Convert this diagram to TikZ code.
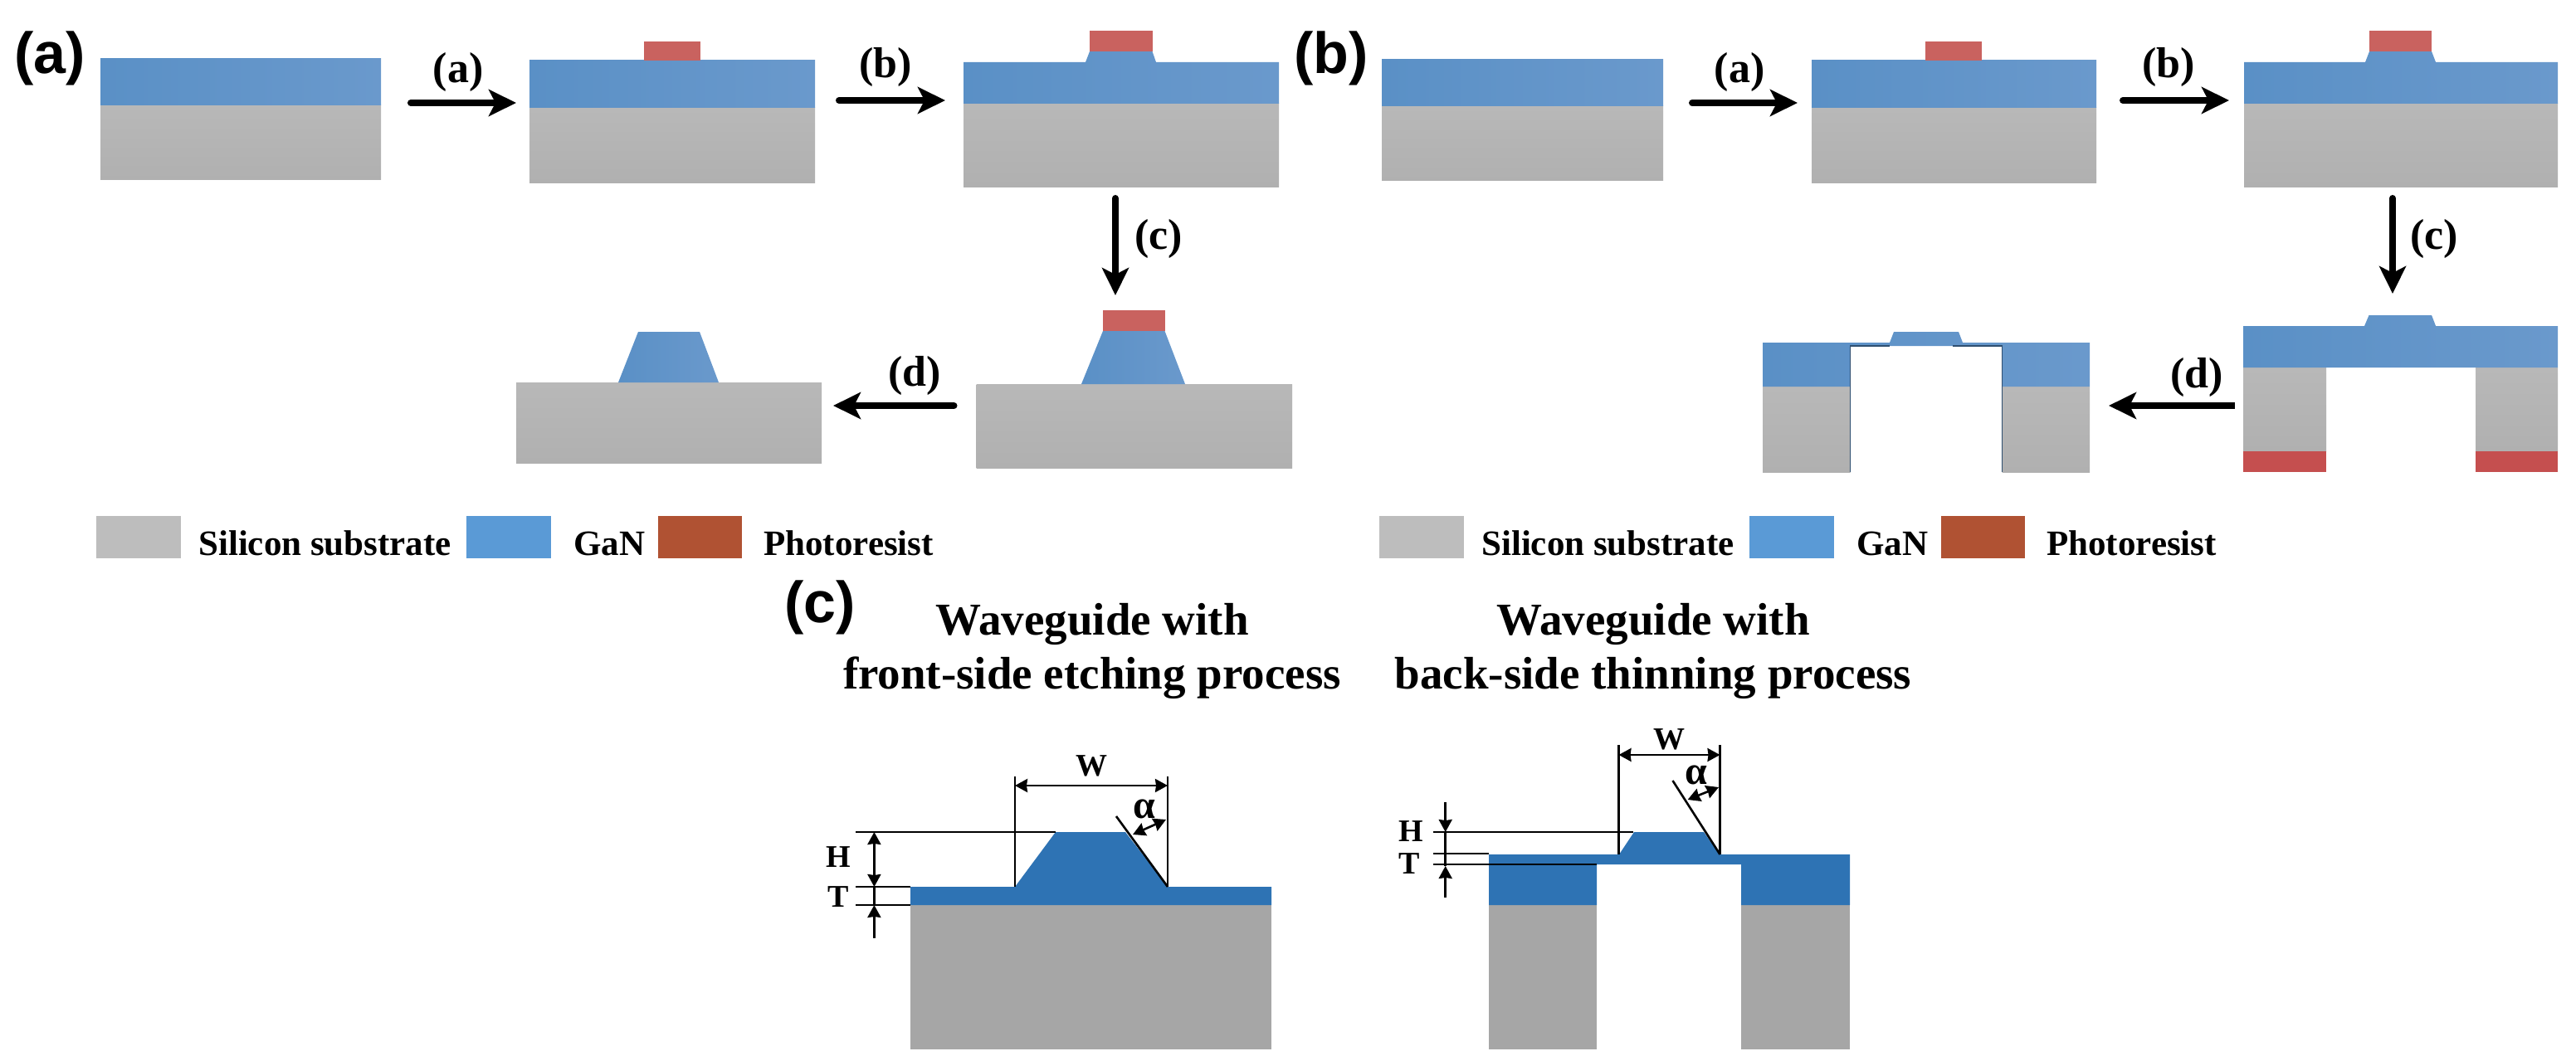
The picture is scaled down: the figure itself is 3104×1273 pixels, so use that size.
\documentclass[tikz,border=0pt]{standalone}
\usepackage{fontspec}
\setmainfont{Liberation Serif}
\newfontfamily\panelfont{Liberation Sans}
\usetikzlibrary{arrows.meta}
\tikzset{
  sil/.style={bottom color=SilB,top color=SilT,draw=none},
  gan/.style={left color=GanL,right color=GanR,draw=none},
  resist/.style={fill=ResA,draw=none},
  resistb/.style={fill=ResB,draw=none},
  silc/.style={fill=SilC,draw=none},
  ganc/.style={fill=GanC,draw=none},
  procarrow/.style={line width=8pt,line cap=round,-{Stealth[length=33pt,width=32pt,inset=8pt]}},
  dimline/.style={line width=2.6pt,black},
  dimtip/.style={line width=2.6pt,black,{Stealth[length=15pt,width=16pt,inset=1pt]}-{Stealth[length=15pt,width=16pt,inset=1pt]}},
  dimend/.style={line width=2.6pt,black,-{Stealth[length=15pt,width=16pt,inset=1pt]}},
  steplabel/.style={inner sep=0pt,font=\fontsize{52}{52}\selectfont\bfseries},
  panellabel/.style={inner sep=0pt,font=\fontsize{70}{70}\selectfont\panelfont\bfseries},
  legendlabel/.style={inner sep=0pt,anchor=base west,font=\fontsize{43}{43}\selectfont\bfseries},
  titlelabel/.style={inner sep=0pt,anchor=base,font=\fontsize{55}{55}\selectfont\bfseries},
  dimlabel/.style={inner sep=0pt,font=\fontsize{38}{38}\selectfont\bfseries},
  widthlabel/.style={inner sep=0pt,font=\fontsize{38}{38}\selectfont\bfseries},
  anglelabel/.style={inner sep=0pt,font=\fontsize{48}{48}\selectfont\bfseries},
}
\definecolor{SilT}{HTML}{B8B8B8}
\definecolor{SilB}{HTML}{B0B0B0}
\definecolor{GanL}{HTML}{5A90C6}
\definecolor{GanR}{HTML}{6A99CC}
\definecolor{ResA}{HTML}{C9625F}
\definecolor{ResB}{HTML}{C54F4F}
\definecolor{SilC}{HTML}{A6A6A6}
\definecolor{GanC}{HTML}{2E73B4}
\definecolor{LegG}{HTML}{BDBDBD}
\definecolor{LegB}{HTML}{5A9AD6}
\definecolor{LegR}{HTML}{B05233}
\definecolor{EdgeD}{HTML}{2F4F70}
\begin{document}
\begin{tikzpicture}[x=1pt,y=-1pt]
\useasboundingbox (0,0) rectangle (3104,1273);
\fill[white] (0,0) rectangle (3104,1273);

% ---------- panel (a) ----------
\node[panellabel] (pa) at (60,70) {(a)};
% a1
\path[sil] (121,126.7) rectangle (459,216.7);
\path[gan] (121,70.7) rectangle (459,126.7);
% a2
\path[sil] (638,130) rectangle (982,221);
\path[gan] (638,73) rectangle (982,130);
\path[resist] (776,50) rectangle (844,73);
% a3
\path[sil] (1161,125) rectangle (1541,226);
\path[gan] (1161,75) -- (1308,75) -- (1313,62) -- (1388.5,62) -- (1393,75) -- (1541,75) -- (1541,125) -- (1161,125) -- cycle;
\path[resist] (1313,37) rectangle (1388.5,62);
% a4 right
\path[sil] (1176.5,463) rectangle (1557,564);
\path[gan] (1303,463) -- (1329,399) -- (1403.5,399) -- (1428,463) -- cycle;
\path[resist] (1329,374) rectangle (1403.5,399);
% a4 left
\path[sil] (622,461) rectangle (990,558);
\path[gan] (745,461) -- (769,400) -- (843,400) -- (866,461) -- cycle;
% arrows
\coordinate (aat) at (495,124); \coordinate (aah) at (622,124);
\coordinate (abt) at (1011,121); \coordinate (abh) at (1139,121);
\coordinate (act) at (1344,239); \coordinate (ach) at (1344,356);
\coordinate (adt) at (1149.5,489); \coordinate (adh) at (1004,489);
\draw[procarrow] (aat) -- (aah);
\draw[procarrow] (abt) -- (abh);
\draw[procarrow] (act) -- (ach);
\draw[procarrow] (adt) -- (adh);
\node[steplabel] (la) at (552,87) {(a)};
\node[steplabel] (lb) at (1067,81) {(b)};
\node[steplabel] (lc) at (1396,288) {(c)};
\node[steplabel] (ld) at (1102,453) {(d)};
% legend a
\path[fill=LegG] (116,622) rectangle (218,673);
\node[legendlabel] (l1) at (239,669) {Silicon substrate};
\path[fill=LegB] (562,622) rectangle (664,673);
\node[legendlabel] (l2) at (691,669) {GaN};
\path[fill=LegR] (793,622) rectangle (894,673);
\node[legendlabel] (l3) at (920,669) {Photoresist};

% ---------- panel (b) ----------
\node[panellabel] (pb) at (1604,70) {(b)};
% b1
\path[sil] (1665,128) rectangle (2004,218);
\path[gan] (1665,72) rectangle (2004,128);
% b2
\path[sil] (2183,130) rectangle (2526,221);
\path[gan] (2183,73) rectangle (2526,130);
\path[resist] (2320,50) rectangle (2388,73);
% b3
\path[sil] (2704,125) rectangle (3082,226);
\path[gan] (2704,75) -- (2850,75) -- (2855,62) -- (2930,62) -- (2935,75) -- (3082,75) -- (3082,125) -- (2704,125) -- cycle;
\path[resist] (2855,37) rectangle (2930,62);
% b4 right
\path[sil] (2703,443) rectangle (2803,544);
\path[sil] (2983,443) rectangle (3082,544);
\path[gan] (2703,393) -- (2849,393) -- (2854.5,380) -- (2930,380) -- (2935,393) -- (3082,393) -- (3082,443) -- (2703,443) -- cycle;
\path[resistb] (2703,544) rectangle (2803,569);
\path[resistb] (2983,544) rectangle (3082,569);
% b4 left
\path[sil] (2124,466) rectangle (2229.5,569);
\path[sil] (2412.5,466) rectangle (2518,569);
\path[gan] (2124,413) -- (2277,413) -- (2282,400) -- (2360,400) -- (2365,413) -- (2518,413) -- (2518,466) -- (2412.5,466) -- (2412.5,417) -- (2229.5,417) -- (2229.5,466) -- (2124,466) -- cycle;
\draw[EdgeD,line width=1.6pt] (2229.5,569) -- (2229.5,417) -- (2277,417);
\draw[EdgeD,line width=1.6pt] (2353,417) -- (2412.5,417) -- (2412.5,569);
% arrows
\coordinate (bat) at (2039,124); \coordinate (bah) at (2166,124);
\coordinate (bbt) at (2558,121); \coordinate (bbh) at (2686,121);
\coordinate (bct) at (2883,239); \coordinate (bch) at (2883,354);
\coordinate (bdt) at (2693,489); \coordinate (bdh) at (2541,489);
\draw[procarrow] (bat) -- (bah);
\draw[procarrow] (bbt) -- (bbh);
\draw[procarrow] (bct) -- (bch);
\draw[procarrow,line cap=butt] (bdt) -- (bdh);
\node[steplabel] (lba) at (2096,87) {(a)};
\node[steplabel] (lbb) at (2613,81) {(b)};
\node[steplabel] (lbc) at (2933,288) {(c)};
\node[steplabel] (lbd) at (2647,455) {(d)};
% legend b
\path[fill=LegG] (1662,622) rectangle (1764,673);
\node[legendlabel] (m1) at (1785,669) {Silicon substrate};
\path[fill=LegB] (2108,622) rectangle (2210,673);
\node[legendlabel] (m2) at (2237,669) {GaN};
\path[fill=LegR] (2339,622) rectangle (2440,673);
\node[legendlabel] (m3) at (2466,669) {Photoresist};

% ---------- panel (c) ----------
\node[panellabel] (pc) at (988,732) {(c)};
\node[titlelabel] (t1) at (1316,765) {Waveguide with};
\node[titlelabel] (t2) at (1316,830) {front-side etching process};
\node[titlelabel] (t3) at (1992,765) {Waveguide with};
\node[titlelabel] (t4) at (1992,830) {back-side thinning process};

% left cross-section
\path[silc] (1097,1091) rectangle (1532,1265);
\path[ganc] (1097,1069) -- (1223,1069) -- (1272,1003) -- (1356,1003) -- (1407,1069) -- (1532,1069) -- (1532,1091) -- (1097,1091) -- cycle;
\coordinate (w1t) at (1223,936); \coordinate (w1b) at (1223,1069);
\coordinate (w2t) at (1407,936); \coordinate (w2b) at (1407,1069);
\draw[dimline] (w1t) -- (w1b);
\draw[dimline] (w2t) -- (w2b);
\coordinate (wl) at (1223,947); \coordinate (wr) at (1407,947);
\draw[dimtip] (wl) -- (wr);
\node[widthlabel] (lw1) at (1315,923) {W};
\coordinate (st1) at (1345,984);
\draw[dimline] (st1) -- (w2b);
\coordinate (al1) at (1365,1006); \coordinate (al2) at (1405,988);
\draw[dimtip] (al1) -- (al2);
\node[anglelabel] (la1) at (1379,975) {α};
\coordinate (h1a) at (1031,1003); \coordinate (h1b) at (1272,1003);
\coordinate (t1a) at (1031,1069); \coordinate (t1b) at (1097,1069);
\coordinate (t2a) at (1031,1091); \coordinate (t2b) at (1097,1091);
\draw[dimline] (h1a) -- (h1b);
\draw[dimline] (t1a) -- (t1b);
\draw[dimline] (t2a) -- (t2b);
\coordinate (vh1) at (1053.4,1003); \coordinate (vh2) at (1053.4,1069);
\coordinate (vh3) at (1053.4,1091); \coordinate (vh4) at (1053.4,1131);
\draw[dimtip] (vh1) -- (vh2);
\draw[dimline] (vh2) -- (vh3);
\draw[dimend] (vh4) -- (vh3);
\node[dimlabel] (lh1) at (1010.5,1033) {H};
\node[dimlabel] (lt1) at (1010,1081) {T};

% right cross-section
\path[silc] (1794,1091) rectangle (1924,1265);
\path[silc] (2098,1091) rectangle (2229,1265);
\path[ganc] (1794,1030) -- (1951,1030) -- (1969,1003) -- (2053,1003) -- (2072,1030) -- (2229,1030) -- (2229,1091) -- (2098,1091) -- (2098,1042) -- (1924,1042) -- (1924,1091) -- (1794,1091) -- cycle;
\coordinate (x1t) at (1950.5,898); \coordinate (x1b) at (1950.5,1030);
\coordinate (x2t) at (2072.5,898); \coordinate (x2b) at (2072.5,1030);
\draw[dimline] (x1t) -- (x1b);
\draw[dimline] (x2t) -- (x2b);
\coordinate (xl) at (1950.5,910); \coordinate (xr) at (2072.5,910);
\draw[dimtip] (xl) -- (xr);
\node[widthlabel] (lw2) at (2011,891) {W};
\coordinate (st2) at (2015.5,941);
\draw[dimline] (st2) -- (x2b);
\coordinate (bl1) at (2033.6,964); \coordinate (bl2) at (2071,949);
\draw[dimtip] (bl1) -- (bl2);
\node[anglelabel] (la2) at (2044,934) {α};
\coordinate (h2a) at (1727,1003); \coordinate (h2b) at (1968,1003);
\coordinate (u1a) at (1727,1029); \coordinate (u1b) at (1794,1029);
\coordinate (u2a) at (1727,1042); \coordinate (u2b) at (1924,1042);
\draw[dimline] (h2a) -- (h2b);
\draw[dimline] (u1a) -- (u1b);
\draw[dimline] (u2a) -- (u2b);
\coordinate (vv1) at (1741.7,967); \coordinate (vv2) at (1741.7,1003);
\coordinate (vv3) at (1741.7,1044); \coordinate (vv4) at (1741.7,1082);
\draw[dimend] (vv1) -- (vv2);
\draw[dimline] (vv2) -- (vv3);
\draw[dimend] (vv4) -- (vv3);
\node[dimlabel] (lh2) at (1700,1002) {H};
\node[dimlabel] (lt2) at (1698,1041) {T};
\end{tikzpicture}
\end{document}
